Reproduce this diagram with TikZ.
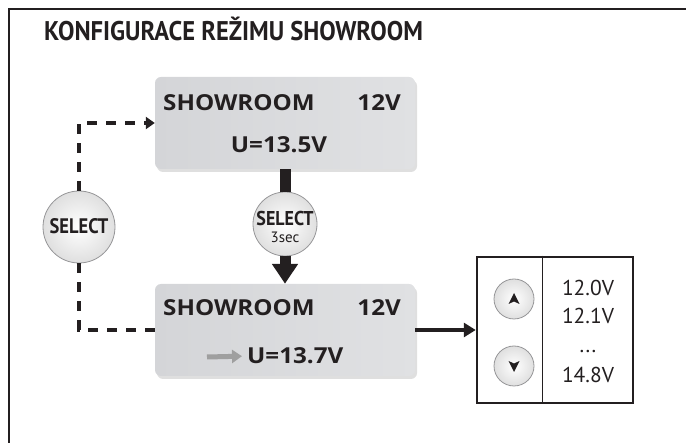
\documentclass[tikz,border=0pt]{standalone}
\usepackage{fontspec}
\setmainfont{PT Sans}
\newfontfamily\lcdfont{Open Sans}
\usetikzlibrary{arrows.meta,shadows,calc}
\definecolor{lcd}{RGB}{212,213,216}
\definecolor{lcdlight}{RGB}{224,225,227}
\definecolor{ink}{RGB}{35,31,32}
\definecolor{btnedge}{RGB}{150,150,152}
\newcommand{\lcdt}[1]{\scalebox{1.1}[1]{\lcdfont\bfseries #1}}
\begin{document}
\begin{tikzpicture}[x=1pt,y=-1pt,
  lcdbox/.style={rounded corners=6pt, left color=lcd, right color=lcdlight, draw=none,
     minimum width=260pt, minimum height=92pt,
     drop shadow={opacity=0.25, shadow xshift=2pt, shadow yshift=-3pt}},
  lcdtxt/.style={font=\fontsize{22}{24}\selectfont, text=ink, inner sep=0pt},
  btn/.style={circle, draw=btnedge, line width=0.8pt, inner color=white, outer color=gray!25, inner sep=0pt},
  dashline/.style={ink, line width=4pt, dash pattern=on 10pt off 9pt},
  thickarrow/.style={ink, line width=11pt},
  valtxt/.style={font=\fontsize{21.5}{22}\selectfont, text=ink, inner sep=0pt},
  btntxt/.style={text=ink, inner sep=0pt, anchor=base}
]
\useasboundingbox (0,0) rectangle (686,443);
% frame
\draw[ink, line width=2.5pt] (9,443) -- (9,9) -- (686,9);
% title
\node[anchor=base west, inner sep=0pt, text=ink, font=\bfseries\fontsize{27}{28}\selectfont] (title) at (44,41) {\scalebox{0.91}[1]{KONFIGURACE REŽIMU SHOWROOM}};
% LCD boxes
\node[lcdbox] (top) at (285,123) {};
\node[lcdbox] (bot) at (285,330) {};
\node[lcdtxt, anchor=base west] (t1) at (163,111) {\lcdt{SHOWROOM}};
\node[lcdtxt, anchor=base east] (t2) at (401,111) {\lcdt{12V}};
\node[lcdtxt, anchor=base] (t3) at (279,153) {\lcdt{U=13.5V}};
\node[lcdtxt, anchor=base west] (b1) at (163,316) {\lcdt{SHOWROOM}};
\node[lcdtxt, anchor=base east] (b2) at (401,316) {\lcdt{12V}};
\node[lcdtxt, anchor=base west] (b3) at (247,364) {\lcdt{U=13.7V}};
\coordinate (ga) at (207,357);
\draw[gray!75, line width=5pt, -{Triangle[length=10pt,width=13pt]}] (ga) -- ($(b3.west)+(-5,0)$ |- ga);
% SELECT buttons
\node[btn, minimum size=72pt] (selL) at (79,227) {};
\node[btntxt, font=\bfseries\fontsize{21}{22}\selectfont] (selLt) at (79,234) {\scalebox{0.88}[1]{SELECT}};
\node[btn, minimum size=64pt] (sel3) at (285,224) {};
\node[btntxt, font=\bfseries\fontsize{20}{20}\selectfont] (sel3a) at (285,226) {\scalebox{0.9}[1]{SELECT}};
\node[btntxt, font=\fontsize{15}{15}\selectfont] (sel3b) at (285,243) {3sec};
% dashed connectors
\draw[dashline, -{Triangle[length=9pt,width=12pt]}] (selL.north) |- (top.west);
\draw[dashline] (selL.south) |- (bot.west);
% thick connectors
\draw[thickarrow] (top.south) -- (sel3.north);
\draw[thickarrow, -{Triangle[length=20pt,width=25pt]}] (sel3.south) -- (bot.north);
% right panel
\node[draw=ink, line width=2.5pt, minimum width=156pt, minimum height=146pt, inner sep=0pt] (panel) at (555,330) {};
\draw[ink, line width=1pt] ($(panel.north west)+(67,0)$) -- ($(panel.south west)+(67,0)$);
\draw[ink, line width=4pt, -{Triangle[length=12pt,width=14pt]}] (bot.east) -- (panel.west);
\node[btn, minimum size=40pt] (up) at (514,299) {};
\node[btn, minimum size=40pt] (down) at (514,366) {};
\fill[ink, shift={(up)}] (0,-6) -- (5.5,5) -- (0,2.5) -- (-5.5,5) -- cycle;
\fill[ink, shift={(down)}] (0,6) -- (5.5,-5) -- (0,-2.5) -- (-5.5,-5) -- cycle;
\node[valtxt, anchor=base] (v1) at (588,296) {12.0V};
\node[valtxt, anchor=base] (v2) at (588,324) {12.1V};
\node[valtxt, anchor=base] (v3) at (588,353) {...};
\node[valtxt, anchor=base] (v4) at (588,383) {14.8V};
\end{tikzpicture}
\end{document}
